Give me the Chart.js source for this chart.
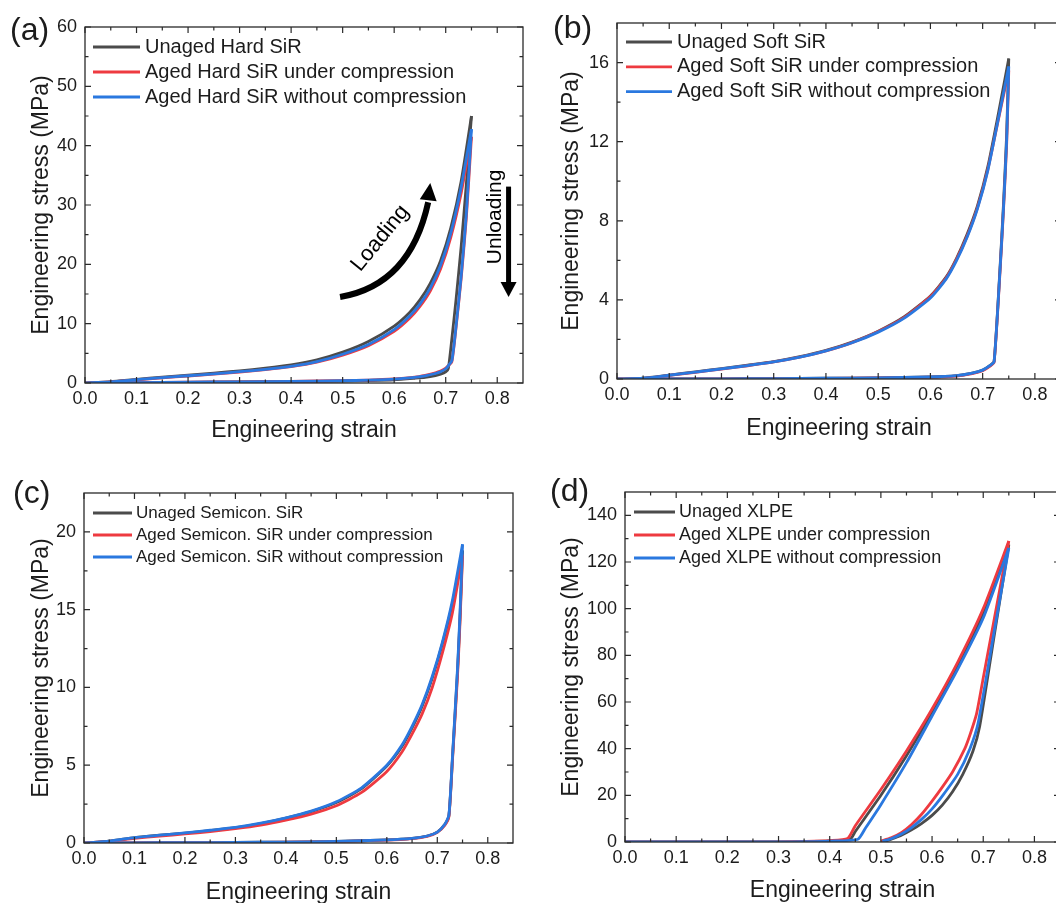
<!DOCTYPE html>
<html>
<head>
<meta charset="utf-8">
<title>Cyclic compression of aged insulation materials</title>
<script src="https://cdn.jsdelivr.net/npm/chart.js@4.4.1/dist/chart.umd.min.js"></script>
<style>
    html, body { margin: 0; padding: 0; background: #fff; overflow: hidden; }
    #figure { position: relative; width: 1056px; height: 903px; overflow: hidden; }
    #figure canvas { position: absolute; }
</style>
</head>
<body>
<div id="figure">
    <canvas id="panelA" width="530" height="450" style="left:0px;top:0px"></canvas>
    <canvas id="panelB" width="545" height="450" style="left:530px;top:0px"></canvas>
    <canvas id="panelC" width="530" height="460" style="left:0px;top:450px"></canvas>
    <canvas id="panelD" width="545" height="460" style="left:530px;top:450px"></canvas>
</div>
<script>
const FONT = "'Liberation Sans', Arial, sans-serif";
const INK = '#1c1c1c';
const lineColors = ['#4b4b4b', '#ee3a40', '#2a78df']; // unaged, aged under compression, aged without compression
const CURVE_WIDTH = 2.8;

// ---- axis ticks ----
const strainTicks = [0, 0.1, 0.2, 0.3, 0.4, 0.5, 0.6, 0.7, 0.8];
const stressTicksA = [0, 10, 20, 30, 40, 50, 60];
const stressTicksB = [0, 4, 8, 12, 16];
const stressTicksC = [0, 5, 10, 15, 20];
const stressTicksD = [0, 20, 40, 60, 80, 100, 120, 140];

// ---- silicone rubbers: loading branch strain (shared) ----
const strainLoadSiR = [0, 0.05, 0.1, 0.15, 0.2, 0.25, 0.3, 0.35, 0.4, 0.45, 0.5, 0.55, 0.6, 0.63, 0.65, 0.67, 0.69, 0.71, 0.73, 0.75];

// (a) hard SiR, MPa
const hardUnagedLoad = [0, 0.22, 0.62, 0.98, 1.32, 1.68, 2.05, 2.5, 3.05, 3.9, 5.2, 7.0, 9.6, 11.9, 14.0, 16.8, 20.6, 26.2, 34.0, 45.0];
const hardCompLoad = [0, 0.18, 0.52, 0.86, 1.18, 1.5, 1.85, 2.25, 2.75, 3.5, 4.7, 6.3, 8.7, 10.9, 12.9, 15.5, 19.2, 24.6, 32.0, 41.5];
const hardFreeLoad = [0, 0.2, 0.56, 0.9, 1.22, 1.55, 1.9, 2.3, 2.8, 3.6, 4.85, 6.5, 9.0, 11.3, 13.3, 16.0, 19.8, 25.3, 33.0, 42.8];
const strainUnloadHard = [0.75, 0.74, 0.73, 0.72, 0.712, 0.705, 0.70, 0.69, 0.68, 0.66, 0.64, 0.6, 0.55, 0.5, 0.4, 0.3, 0.2, 0.1, 0.05, 0.02];
const hardUnagedUnload = [45.0, 33.5, 23.0, 14.0, 7.5, 2.4, 1.9, 1.5, 1.25, 0.95, 0.8, 0.55, 0.42, 0.33, 0.24, 0.18, 0.12, 0.05, 0.02, 0];
const hardCompUnload = [41.5, 27.8, 17.6, 9.3, 3.6, 2.9, 2.5, 2.0, 1.7, 1.3, 1.0, 0.7, 0.5, 0.4, 0.28, 0.2, 0.13, 0.06, 0.02, 0];
const hardFreeUnload = [42.8, 28.5, 18.0, 9.5, 3.8, 2.9, 2.4, 1.9, 1.6, 1.2, 0.95, 0.65, 0.48, 0.38, 0.27, 0.2, 0.13, 0.06, 0.02, 0];

// (b) soft SiR, MPa
const softUnagedLoad = [0, 0.04, 0.2, 0.36, 0.53, 0.7, 0.88, 1.13, 1.45, 1.87, 2.42, 3.15, 4.2, 5.15, 6.1, 7.3, 8.75, 10.75, 13.4, 16.2];
const softCompLoad = [0, 0.03, 0.18, 0.34, 0.5, 0.67, 0.86, 1.1, 1.42, 1.84, 2.4, 3.12, 4.17, 5.1, 6.05, 7.2, 8.65, 10.6, 13.1, 15.6];
const softFreeLoad = [0, 0.04, 0.19, 0.35, 0.51, 0.68, 0.86, 1.1, 1.42, 1.83, 2.37, 3.08, 4.1, 5.05, 5.98, 7.15, 8.6, 10.55, 13.15, 15.8];
const strainUnloadSoft = [0.75, 0.746, 0.74, 0.733, 0.722, 0.715, 0.70, 0.68, 0.65, 0.6, 0.5, 0.4, 0.3, 0.2, 0.1, 0.05];
const softUnagedUnload = [16.2, 12.4, 8.9, 5.5, 0.9, 0.7, 0.45, 0.3, 0.17, 0.1, 0.06, 0.04, 0.02, 0.01, 0, 0];
const softCompUnload = [15.6, 11.9, 8.6, 5.3, 0.85, 0.66, 0.42, 0.27, 0.15, 0.09, 0.05, 0.03, 0.02, 0.01, 0, 0];
const softFreeUnload = [15.8, 12.1, 8.7, 5.4, 0.88, 0.7, 0.45, 0.3, 0.17, 0.1, 0.06, 0.04, 0.02, 0.01, 0, 0];

// (c) semiconductive SiR, MPa
const semiUnagedLoad = [0, 0.12, 0.34, 0.5, 0.64, 0.8, 0.98, 1.25, 1.6, 2.02, 2.6, 3.5, 4.95, 6.2, 7.4, 8.8, 10.6, 12.8, 15.4, 18.8];
const semiCompLoad = [0, 0.1, 0.3, 0.45, 0.58, 0.74, 0.92, 1.15, 1.47, 1.86, 2.4, 3.25, 4.6, 5.85, 7.0, 8.3, 10.0, 12.2, 14.8, 18.5];
const semiFreeLoad = [0, 0.12, 0.35, 0.5, 0.65, 0.82, 1.0, 1.27, 1.62, 2.05, 2.65, 3.55, 5.0, 6.3, 7.5, 8.9, 10.7, 12.9, 15.6, 19.2];
const strainUnloadSemi = [0.75, 0.745, 0.74, 0.73, 0.723, 0.715, 0.70, 0.68, 0.65, 0.6, 0.5, 0.4, 0.3, 0.2, 0.1, 0.05];
const semiUnagedUnload = [18.8, 14.5, 11.0, 5.4, 1.75, 1.2, 0.7, 0.45, 0.3, 0.2, 0.1, 0.06, 0.04, 0.02, 0.01, 0];
const semiCompUnload = [18.5, 14.2, 10.7, 5.3, 1.7, 1.15, 0.68, 0.42, 0.28, 0.18, 0.09, 0.05, 0.03, 0.02, 0.01, 0];
const semiFreeUnload = [19.2, 14.8, 11.2, 5.5, 1.8, 1.2, 0.7, 0.45, 0.3, 0.2, 0.1, 0.06, 0.04, 0.02, 0.01, 0];

// (d) XLPE, each curve has its own strain points, MPa
const xlpeUnagedLoadStrain = [0, 0.3, 0.35, 0.4, 0.44, 0.45, 0.5, 0.55, 0.6, 0.65, 0.7, 0.75];
const xlpeUnagedLoad = [0, 0, 0.15, 0.45, 1.2, 4.5, 20, 37, 55.5, 75.5, 98, 127.5];
const xlpeCompLoadStrain = [0, 0.3, 0.35, 0.4, 0.435, 0.45, 0.5, 0.55, 0.6, 0.65, 0.7, 0.75];
const xlpeCompLoad = [0, 0.05, 0.25, 0.6, 1.5, 7, 22.5, 39, 57, 77, 100, 129];
const xlpeFreeLoadStrain = [0, 0.3, 0.35, 0.4, 0.455, 0.47, 0.5, 0.55, 0.6, 0.65, 0.7, 0.75];
const xlpeFreeLoad = [0, 0, 0.1, 0.4, 1.2, 6, 16, 34, 54, 74, 96, 126];
const xlpeUnagedUnloadStrain = [0.75, 0.72, 0.693, 0.68, 0.66, 0.64, 0.62, 0.6, 0.58, 0.56, 0.54, 0.525, 0.515, 0.507];
const xlpeUnagedUnload = [127.5, 86.5, 49.5, 39, 29, 21.5, 15.8, 11.4, 8.0, 5.2, 2.9, 1.6, 0.8, 0.3];
const xlpeCompUnloadStrain = [0.75, 0.72, 0.7, 0.687, 0.675, 0.664, 0.64, 0.62, 0.6, 0.58, 0.56, 0.54, 0.52, 0.5];
const xlpeCompUnload = [129, 93.8, 70.3, 55, 46.5, 40, 30, 23.5, 17.5, 12, 7.5, 4, 1.8, 0.4];
const xlpeFreeUnloadStrain = [0.75, 0.72, 0.69, 0.674, 0.65, 0.621, 0.6, 0.58, 0.56, 0.54, 0.52, 0.503];
const xlpeFreeUnload = [126, 88.5, 51, 40, 29, 20, 14.2, 9.8, 6.2, 3.4, 1.4, 0.3];

// loading / unloading annotations of panel (a), in strain / MPa
const loadingArrow = { from: [0.495, 14.5], bend: [0.631, 16.5], to: [0.666, 30.8], tip: [0.670, 33.7] };
const unloadingArrow = { strain: 0.822, from: 33.1, tip: 14.5 };
const loadingTextAt = [0.573, 24.4];
const unloadingTextAt = [0.796, 28.0];


// turn a branch into {x, y} points
function branch(strain, stress) {
    return strain.map((s, i) => ({ x: s, y: stress[i] }));
}

// two datasets per curve so the turning point stays sharp
function buildDatasets(series) {
    let sets = [];
    series.forEach((s, i) => {
        const common = {
            borderColor: lineColors[i],
            backgroundColor: lineColors[i],
            borderWidth: CURVE_WIDTH,
            pointRadius: 0,
            tension: 0.2,
            fill: false,
            order: 3 - i // later curves on top
        };
        sets.push(Object.assign({ label: s.label, data: branch(s.loadX, s.loadY) }, common));
        sets.push(Object.assign({ label: s.label, data: branch(s.unloadX, s.unloadY) }, common));
    });
    return sets;
}

function minorValues(min, max, step, majors) {
    let out = [];
    const n = Math.round((max - min) / step);
    for (let k = 1; k < n; k++) {
        const v = min + k * step;
        if (!majors.some(m => Math.abs(m - v) < 1e-9)) out.push(v);
    }
    return out;
}

function arrowHead(ctx, tip, base, halfW) {
    const dx = tip.x - base.x, dy = tip.y - base.y;
    const len = Math.hypot(dx, dy);
    const nx = -dy / len, ny = dx / len;
    ctx.beginPath();
    ctx.moveTo(tip.x, tip.y);
    ctx.lineTo(base.x + nx * halfW, base.y + ny * halfW);
    ctx.lineTo(base.x - nx * halfW, base.y - ny * halfW);
    ctx.closePath();
    ctx.fill();
}

function drawNotes(chart) {
    const { ctx, scales: { x, y } } = chart;
    const pt = (v) => ({ x: x.getPixelForValue(v[0]), y: y.getPixelForValue(v[1]) });
    ctx.fillStyle = '#000';
    ctx.strokeStyle = '#000';

    // curved loading arrow
    const p0 = pt(loadingArrow.from), c = pt(loadingArrow.bend), p2 = pt(loadingArrow.to), tip = pt(loadingArrow.tip);
    ctx.lineWidth = 6;
    ctx.lineCap = 'butt';
    ctx.beginPath();
    ctx.moveTo(p0.x, p0.y);
    ctx.quadraticCurveTo(c.x, c.y, p2.x, p2.y + 2);
    ctx.stroke();
    arrowHead(ctx, tip, p2, 8.5);

    // straight unloading arrow
    const ux = x.getPixelForValue(unloadingArrow.strain);
    const uTop = y.getPixelForValue(unloadingArrow.from);
    const uTip = y.getPixelForValue(unloadingArrow.tip);
    ctx.lineWidth = 5;
    ctx.beginPath();
    ctx.moveTo(ux, uTop);
    ctx.lineTo(ux, uTip - 13);
    ctx.stroke();
    arrowHead(ctx, { x: ux, y: uTip }, { x: ux, y: uTip - 15 }, 8);

    ctx.textAlign = 'center';
    ctx.textBaseline = 'middle';
    const lt = pt(loadingTextAt);
    ctx.save();
    ctx.translate(lt.x, lt.y);
    ctx.rotate(-51 * Math.PI / 180);
    ctx.font = `22px ${FONT}`;
    ctx.fillText('Loading', 0, 0);
    ctx.restore();

    const ut = pt(unloadingTextAt);
    ctx.save();
    ctx.translate(ut.x, ut.y);
    ctx.rotate(-Math.PI / 2);
    ctx.font = `21px ${FONT}`;
    ctx.fillText('Unloading', 0, 0);
    ctx.restore();
}

// frame, inward ticks on all four sides, legend and panel tag
function framePlugin(p) {
    return {
        id: 'frame',
        afterDatasetsDraw(chart) {
            const { ctx, chartArea: a, scales: { x, y } } = chart;
            ctx.save();
            ctx.strokeStyle = '#2a2a2a';
            ctx.lineWidth = 1.3;
            ctx.strokeRect(a.left, a.top, a.right - a.left, a.bottom - a.top);

            ctx.lineWidth = 1.2;
            const tickX = (v, len) => {
                const px = x.getPixelForValue(v);
                ctx.beginPath();
                ctx.moveTo(px, a.bottom); ctx.lineTo(px, a.bottom - len);
                ctx.moveTo(px, a.top); ctx.lineTo(px, a.top + len);
                ctx.stroke();
            };
            const tickY = (v, len) => {
                const py = y.getPixelForValue(v);
                ctx.beginPath();
                ctx.moveTo(a.left, py); ctx.lineTo(a.left + len, py);
                ctx.moveTo(a.right, py); ctx.lineTo(a.right - len, py);
                ctx.stroke();
            };
            strainTicks.forEach(v => tickX(v, 6));
            minorValues(0, 0.85, 0.05, strainTicks).forEach(v => tickX(v, 3.5));
            p.yTicks.forEach(v => tickY(v, 6));
            minorValues(0, p.yMax, p.yMinor, p.yTicks).forEach(v => tickY(v, 3.5));

            // legend
            const lg = p.legend;
            ctx.font = `${lg.size}px ${FONT}`;
            ctx.textAlign = 'left';
            ctx.textBaseline = 'middle';
            p.series.forEach((s, i) => {
                const yy = a.top + lg.dy + i * lg.gap;
                const x0 = a.left + lg.dx;
                ctx.strokeStyle = lineColors[i];
                ctx.lineWidth = CURVE_WIDTH;
                ctx.beginPath();
                ctx.moveTo(x0, yy);
                ctx.lineTo(x0 + lg.len, yy);
                ctx.stroke();
                ctx.fillStyle = INK;
                ctx.fillText(s.label, x0 + lg.len + lg.space, yy);
            });

            // panel tag
            ctx.font = `32px ${FONT}`;
            ctx.fillStyle = INK;
            ctx.fillText(p.tag, p.tagX, p.tagY);

            if (p.notes) drawNotes(chart);
            ctx.restore();
        }
    };
}

function makePanel(canvasId, p) {
    const ctx = document.getElementById(canvasId).getContext('2d');
    return new Chart(ctx, {
        type: 'line',
        data: { datasets: buildDatasets(p.series) },
        options: {
            responsive: false,
            animation: false,
            devicePixelRatio: 1,
            events: [],
            layout: { padding: { left: 0, top: p.padTop, right: p.padRight, bottom: 0 } },
            plugins: { legend: { display: false }, tooltip: { enabled: false } },
            scales: {
                x: {
                    type: 'linear',
                    min: 0,
                    max: 0.85,
                    afterBuildTicks: (s) => { s.ticks = strainTicks.map(v => ({ value: v })); },
                    afterFit: (s) => { s.height = p.xAxisHeight; },
                    grid: { display: false, drawTicks: false },
                    border: { display: false },
                    ticks: {
                        padding: 5,
                        color: INK,
                        autoSkip: false,
                        maxRotation: 0,
                        font: { family: FONT, size: 18 },
                        callback: (v) => Number(v).toFixed(1)
                    },
                    title: {
                        display: true,
                        text: 'Engineering strain',
                        color: INK,
                        font: { family: FONT, size: 23 },
                        padding: { top: 0, bottom: p.xTitlePad }
                    }
                },
                y: {
                    type: 'linear',
                    min: 0,
                    max: p.yMax,
                    afterBuildTicks: (s) => { s.ticks = p.yTicks.map(v => ({ value: v })); },
                    afterFit: (s) => { s.width = p.yAxisWidth; },
                    grid: { display: false, drawTicks: false },
                    border: { display: false },
                    ticks: {
                        padding: 8,
                        color: INK,
                        autoSkip: false,
                        font: { family: FONT, size: 18 },
                        callback: (v) => String(v)
                    },
                    title: {
                        display: true,
                        text: 'Engineering stress (MPa)',
                        color: INK,
                        font: { family: FONT, size: 23 },
                        padding: { top: 28, bottom: 0 }
                    }
                }
            }
        },
        plugins: [framePlugin(p)]
    });
}

makePanel('panelA', {
    tag: '(a)', tagX: 10, tagY: 31,
    padTop: 27, padRight: 7, yAxisWidth: 85, xAxisHeight: 67, xTitlePad: 6,
    yMax: 60, yTicks: stressTicksA, yMinor: 5,
    legend: { dx: 8, dy: 20, gap: 25, len: 47, space: 5, size: 20 },
    notes: true,
    series: [
        { label: 'Unaged Hard SiR', loadX: strainLoadSiR, loadY: hardUnagedLoad, unloadX: strainUnloadHard, unloadY: hardUnagedUnload },
        { label: 'Aged Hard SiR under compression', loadX: strainLoadSiR, loadY: hardCompLoad, unloadX: strainUnloadHard, unloadY: hardCompUnload },
        { label: 'Aged Hard SiR without compression', loadX: strainLoadSiR, loadY: hardFreeLoad, unloadX: strainUnloadHard, unloadY: hardFreeUnload }
    ]
});

makePanel('panelB', {
    tag: '(b)', tagX: 23, tagY: 29,
    padTop: 23, padRight: 14, yAxisWidth: 87, xAxisHeight: 71, xTitlePad: 8,
    yMax: 18, yTicks: stressTicksB, yMinor: 2,
    legend: { dx: 9, dy: 19, gap: 24.8, len: 46, space: 5, size: 20 },
    series: [
        { label: 'Unaged Soft SiR', loadX: strainLoadSiR, loadY: softUnagedLoad, unloadX: strainUnloadSoft, unloadY: softUnagedUnload },
        { label: 'Aged Soft SiR under compression', loadX: strainLoadSiR, loadY: softCompLoad, unloadX: strainUnloadSoft, unloadY: softCompUnload },
        { label: 'Aged Soft SiR without compression', loadX: strainLoadSiR, loadY: softFreeLoad, unloadX: strainUnloadSoft, unloadY: softFreeUnload }
    ]
});

makePanel('panelC', {
    tag: '(c)', tagX: 13, tagY: 44,
    padTop: 43, padRight: 17, yAxisWidth: 84, xAxisHeight: 67, xTitlePad: 4,
    yMax: 22.5, yTicks: stressTicksC, yMinor: 2.5,
    legend: { dx: 9, dy: 20, gap: 22, len: 39, space: 4, size: 17 },
    series: [
        { label: 'Unaged Semicon. SiR', loadX: strainLoadSiR, loadY: semiUnagedLoad, unloadX: strainUnloadSemi, unloadY: semiUnagedUnload },
        { label: 'Aged Semicon. SiR under compression', loadX: strainLoadSiR, loadY: semiCompLoad, unloadX: strainUnloadSemi, unloadY: semiCompUnload },
        { label: 'Aged Semicon. SiR without compression', loadX: strainLoadSiR, loadY: semiFreeLoad, unloadX: strainUnloadSemi, unloadY: semiFreeUnload }
    ]
});

makePanel('panelD', {
    tag: '(d)', tagX: 20, tagY: 42,
    padTop: 42, padRight: 15, yAxisWidth: 95, xAxisHeight: 68, xTitlePad: 6,
    yMax: 150, yTicks: stressTicksD, yMinor: 10,
    legend: { dx: 9, dy: 20, gap: 23, len: 41, space: 4, size: 18 },
    series: [
        { label: 'Unaged XLPE', loadX: xlpeUnagedLoadStrain, loadY: xlpeUnagedLoad, unloadX: xlpeUnagedUnloadStrain, unloadY: xlpeUnagedUnload },
        { label: 'Aged XLPE under compression', loadX: xlpeCompLoadStrain, loadY: xlpeCompLoad, unloadX: xlpeCompUnloadStrain, unloadY: xlpeCompUnload },
        { label: 'Aged XLPE without compression', loadX: xlpeFreeLoadStrain, loadY: xlpeFreeLoad, unloadX: xlpeFreeUnloadStrain, unloadY: xlpeFreeUnload }
    ]
});
</script>
</body>
</html>
